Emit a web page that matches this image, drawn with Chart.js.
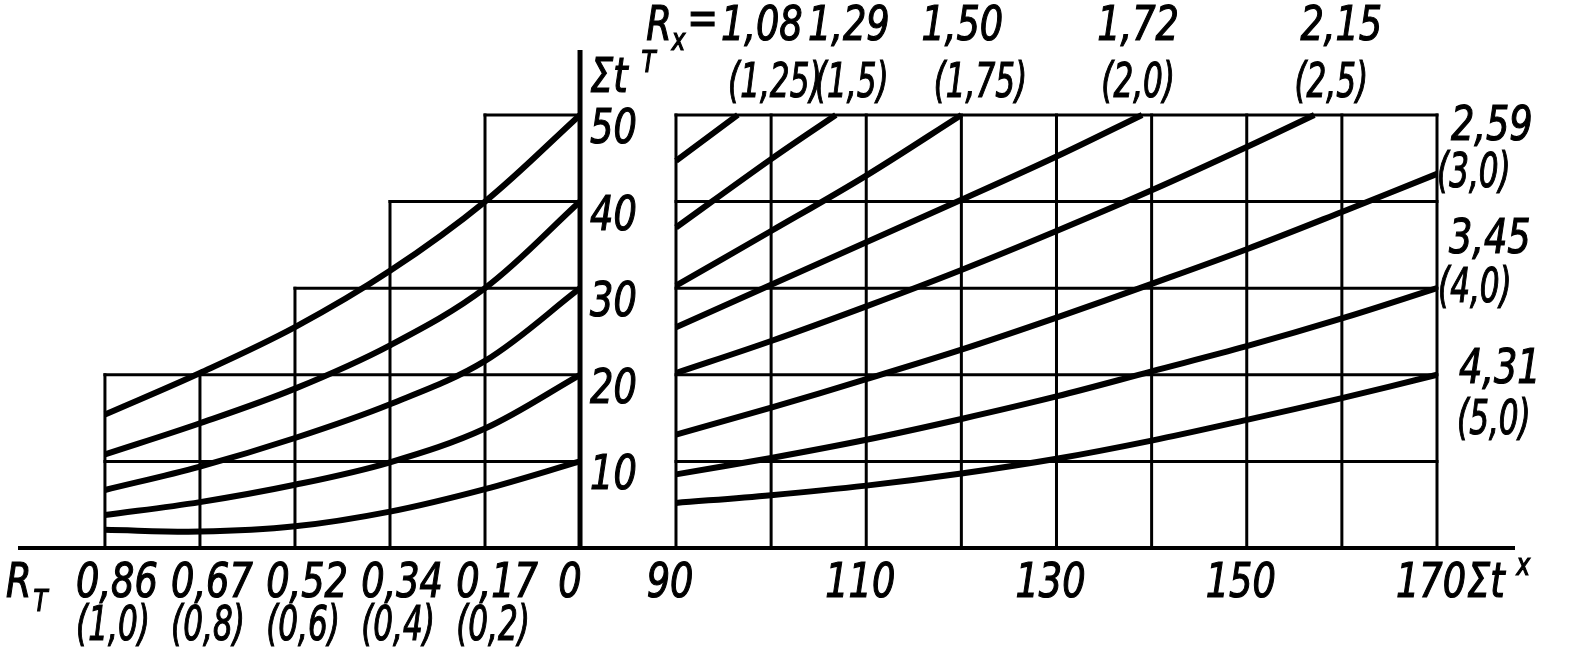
<!DOCTYPE html>
<html>
<head>
<meta charset="utf-8">
<script src="https://cdn.jsdelivr.net/npm/chart.js@4.4.1/dist/chart.umd.min.js"></script>
<style>
  body { margin: 0; background: #fff; }
  canvas { display: block; }
</style>
</head>
<body>
<canvas id="nomo" width="1575" height="665"></canvas>
<script>
// left panel: R_T scale, bracket values are the (linear) positions
const rtPos = [1.0, 0.8, 0.6, 0.4, 0.2, 0];
const rtLabels = ['0,86', '0,67', '0,52', '0,34', '0,17', '0'];
const rtBracket = ['(1,0)', '(0,8)', '(0,6)', '(0,4)', '(0,2)', ''];
const leftColTop = [20, 20, 30, 40, 50];

// Σt^T curves on the left, named by their value at R_T = 0
const left10 = [2.1, 1.9, 2.5, 4.2, 6.8, 10];
const left20 = [3.8, 5.3, 7.3, 9.9, 13.8, 20];
const left30 = [6.7, 9.4, 12.7, 16.6, 21.6, 30];
const left40 = [10.8, 14.4, 18.4, 23.4, 30.0, 40];
const left50 = [15.4, 20.2, 25.5, 32.0, 40.0, 50];

// right panel, Σt^x
const sumTx = [90, 100, 110, 120, 130, 140, 150, 160, 170];
const sumTxTicks = [90, 110, 130, 150, 170];
const sumTTicks = [10, 20, 30, 40, 50];

const rx108 = [44.7];
const rx129 = [37.0, 44.9];
const rx150 = [30.3, 36.6, 43.0];
const rx172 = [25.5, 30.4, 35.3, 40.2, 45.2];
const rx215 = [20.2, 23.9, 27.9, 32.1, 36.6, 41.3, 46.3];
const rx259 = [13.1, 16.2, 19.5, 22.9, 26.6, 30.5, 34.5, 38.8, 43.2];
const rx345 = [8.5, 10.4, 12.5, 14.9, 17.5, 20.4, 23.3, 26.5, 30.0];
const rx431 = [5.2, 6.1, 7.2, 8.6, 10.3, 12.4, 14.8, 17.3, 20.0];
// Σt^x where the upper five lines run into Σt^T = 50
const topExit = [96.5, 106.8, 120, 139, 157.1];

const rxTop = ['1,08', '1,29', '1,50', '1,72', '2,15'];
const rxTopBr = ['(1,25)', '(1,5)', '(1,75)', '(2,0)', '(2,5)'];
const rxSide = ['2,59', '3,45', '4,31'];
const rxSideBr = ['(3,0)', '(4,0)', '(5,0)'];

const FONT = '"DejaVu Sans Condensed", "DejaVu Sans", sans-serif';
// drafting lettering is narrower than any installed font
const SQUEEZE = 0.85;
const SQUEEZE_BR = 0.72;

function leftSet(vals) {
    return {
        data: vals.map((v, i) => ({ x: rtPos[i], y: v })),
        xAxisID: 'xl'
    };
}

function rightSet(vals, exit) {
    let pts = vals.map((v, i) => ({ x: sumTx[i], y: v }));
    if (exit !== undefined) pts.push({ x: exit, y: 50 });
    return { data: pts, xAxisID: 'x' };
}

const datasets = [
    leftSet(left10), leftSet(left20), leftSet(left30), leftSet(left40), leftSet(left50),
    rightSet(rx108, topExit[0]),
    rightSet(rx129, topExit[1]),
    rightSet(rx150, topExit[2]),
    rightSet(rx172, topExit[3]),
    rightSet(rx215, topExit[4]),
    rightSet(rx259),
    rightSet(rx345),
    rightSet(rx431)
];

const drawing = {
    id: 'drawing',
    beforeDatasetsDraw(chart) {
        const { ctx, chartArea } = chart;
        const x = chart.scales.x, xl = chart.scales.xl, y = chart.scales.y;
        const line = (x1, y1, x2, y2, w) => {
            ctx.lineWidth = w;
            ctx.beginPath();
            ctx.moveTo(x1, y1);
            ctx.lineTo(x2, y2);
            ctx.stroke();
        };
        ctx.save();
        ctx.strokeStyle = '#000';
        ctx.lineCap = 'square';
        const y0 = y.getPixelForValue(0);

        // right grid
        sumTx.forEach(v => {
            const px = x.getPixelForValue(v);
            line(px, y0, px, y.getPixelForValue(50), 3);
        });
        sumTTicks.forEach(t => {
            const py = y.getPixelForValue(t);
            line(x.getPixelForValue(90), py, x.getPixelForValue(170), py, 3);
        });

        // left stepped grid
        leftColTop.forEach((top, i) => {
            const px = xl.getPixelForValue(rtPos[i]);
            line(px, y0, px, y.getPixelForValue(top), 3);
        });
        sumTTicks.forEach(t => {
            const i = leftColTop.findIndex(top => top >= t);
            const py = y.getPixelForValue(t);
            line(xl.getPixelForValue(rtPos[i]), py, xl.getPixelForValue(0), py, 3);
        });

        // axes
        ctx.lineCap = 'butt';
        line(chartArea.left, y0, chartArea.right, y0, 4);
        const ax = xl.getPixelForValue(0);
        line(ax, y0 + 2, ax, chartArea.top, 5);
        ctx.restore();
    },
    afterDraw(chart) {
        const { ctx } = chart;
        const x = chart.scales.x, xl = chart.scales.xl, y = chart.scales.y;
        const big = 'italic 48px ' + FONT;
        const small = 'italic 30px ' + FONT;
        // draws squeezed text, returns its width
        const txt = (s, px, py, align, font) => {
            ctx.font = font || big;
            const sq = s.charAt(0) === '(' ? SQUEEZE_BR : SQUEEZE;
            const w = ctx.measureText(s).width * sq;
            let left = px;
            if (align === 'center') left = px - w / 2;
            else if (align === 'right') left = px - w;
            ctx.save();
            ctx.translate(left, py);
            ctx.scale(sq, 1);
            ctx.textAlign = 'left';
            ctx.fillText(s, 0, 0);
            ctx.strokeText(s, 0, 0);
            ctx.restore();
            return w;
        };
        ctx.save();
        ctx.fillStyle = '#000';
        ctx.strokeStyle = '#000';
        ctx.lineWidth = 1.2;
        ctx.textBaseline = 'alphabetic';

        const y0 = y.getPixelForValue(0);
        const row1 = y0 + 49, row2 = y0 + 92;

        // R_T scale
        const wR = txt('R', 6, row1);
        txt('T', 6 + wR + 2, row1 + 14, 'left', small);
        rtLabels.forEach((s, i) => {
            const px = xl.getPixelForValue(rtPos[i]);
            txt(s, px + (i === 5 ? -10 : 12), row1, 'center');
            if (rtBracket[i]) txt(rtBracket[i], px + 8, row2, 'center');
        });

        // Σt^x scale
        sumTxTicks.forEach(v => txt(String(v), x.getPixelForValue(v) - 6, row1, 'center'));
        const x170 = x.getPixelForValue(170);
        const wS = txt('Σt', x170 + 30, row1);
        txt('x', x170 + 30 + wS + 12, row1 - 22, 'left', small);

        // Σt^T scale
        const ax = xl.getPixelForValue(0);
        sumTTicks.forEach(t => txt(String(t), ax + 10, y.getPixelForValue(t) + 28));
        const y50 = y.getPixelForValue(50);
        const wT = txt('Σt', ax + 10, y50 - 23);
        txt('T', ax + 10 + wT + 14, y50 - 43, 'left', small);

        // R_x labels on the top edge
        const nudge1 = [24, 13, 1, -4, 27];
        const nudge2 = [37, 16, 19, -4, 17];
        const top1 = 40, top2 = 97;
        let firstLeft = 0;
        rxTop.forEach((s, i) => {
            const px = x.getPixelForValue(topExit[i]);
            const w = txt(s, px + nudge1[i], top1, 'center');
            if (i === 0) firstLeft = px + nudge1[i] - w / 2;
            txt(rxTopBr[i], px + nudge2[i], top2, 'center');
        });
        const wEq = txt('=', firstLeft - 3, top1 - 6, 'right');
        const wx = txt('x', firstLeft - 3 - wEq - 2, top1 + 10, 'right', small);
        txt('R', firstLeft - 3 - wEq - 2 - wx, top1, 'right');

        // R_x labels on the right edge
        const ends = [rx259, rx345, rx431].map(a => y.getPixelForValue(a[a.length - 1]));
        const sideOff = [[14, -34, 0, 13], [12, -35, 1, 14], [22, 8, 20, 59]];
        rxSide.forEach((s, i) => {
            const o = sideOff[i];
            txt(s, x170 + o[0], ends[i] + o[1]);
            txt(rxSideBr[i], x170 + o[2], ends[i] + o[3]);
        });
        ctx.restore();
    }
};

new Chart(document.getElementById('nomo'), {
    type: 'line',
    data: { datasets: datasets },
    options: {
        responsive: false,
        animation: false,
        layout: { padding: { left: 18, right: 60, top: 50, bottom: 117 } },
        elements: {
            point: { radius: 0 },
            line: { borderColor: '#000', borderWidth: 6, borderJoinStyle: 'round', fill: false, tension: 0.35 }
        },
        plugins: { legend: { display: false }, tooltip: { enabled: false } },
        scales: {
            x: { type: 'linear', axis: 'x', min: 20.83, max: 178.2, display: false },
            xl: { type: 'linear', axis: 'x', min: -1.968, max: 1.183, reverse: true, display: false },
            y: { type: 'linear', min: 0, max: 57.5, display: false }
        }
    },
    plugins: [drawing]
});
</script>
</body>
</html>
